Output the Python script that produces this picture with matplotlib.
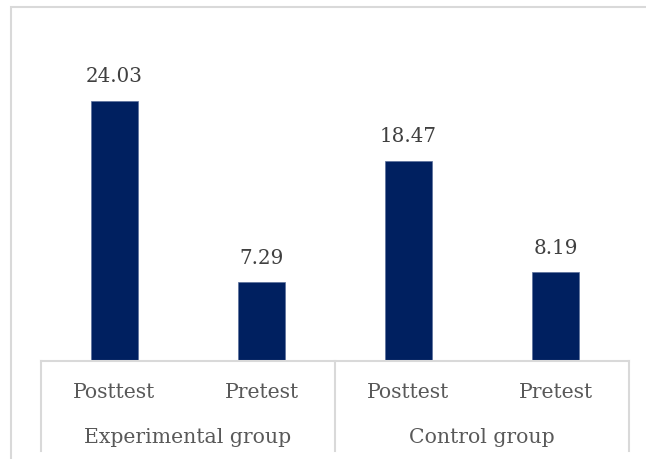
import matplotlib
matplotlib.use('Agg')
import matplotlib.pyplot as plt
from matplotlib.patches import Rectangle

groups = ['Experimental group', 'Control group']
tests = ['Posttest', 'Pretest', 'Posttest', 'Pretest']
values = [24.03, 7.29, 18.47, 8.19]

W, H = 646, 460
bar_color = '#002060'
line_color = '#d9d9d9'

plt.rcParams['font.family'] = ['DejaVu Serif']

fig = plt.figure(figsize=(W / 100, H / 100), dpi=100)

# plot area in pixel terms: x 41..629, baseline at 362, top at 37
left, right, base, top = 41, 629, 362, 37
ax = fig.add_axes([left / W, (H - base) / H, (right - left) / W, (base - top) / H])

x = list(range(len(values)))
ax.bar(x, values, width=0.313, color=bar_color, edgecolor='#5a6f9a', linewidth=0.5)
ax.set_xlim(-0.5, len(values) - 0.5)
ax.set_ylim(0, 30)

for xi, v in zip(x, values):
    ax.annotate(f'{v:.2f}', (xi, v), xytext=(0, 18), textcoords='offset points',
                ha='center', va='center', fontsize=14.3, color='#404040')

for s in ['top', 'left', 'right']:
    ax.spines[s].set_visible(False)
ax.spines['bottom'].set_color(line_color)
ax.spines['bottom'].set_linewidth(1.5)
ax.set_xticks([])
ax.set_yticks([])

# multi-level category axis
px = 1 / (base - top)
tr = ax.get_xaxis_transform()
for xv in [-0.5, 1.5, 3.5]:
    ax.plot([xv, xv], [0, -90 * px], transform=tr, color=line_color, lw=1.5, clip_on=False)

for xi, t in zip(x, tests):
    ax.text(xi, -31 * px, t, transform=tr, ha='center', va='center',
            fontsize=14.7, color='#595959')
for gi, g in enumerate(groups):
    ax.text(gi * 2 + 0.5, -76 * px, g, transform=tr, ha='center', va='center',
            fontsize=14.7, color='#595959')

# chart frame (runs off the right and bottom edges)
fig.patches.append(Rectangle((11 / W, -0.1), 1.2, 1 - 8 / H + 0.1,
                             transform=fig.transFigure, fill=False,
                             edgecolor=line_color, lw=1.5))

fig.savefig('out.png', dpi=100)
